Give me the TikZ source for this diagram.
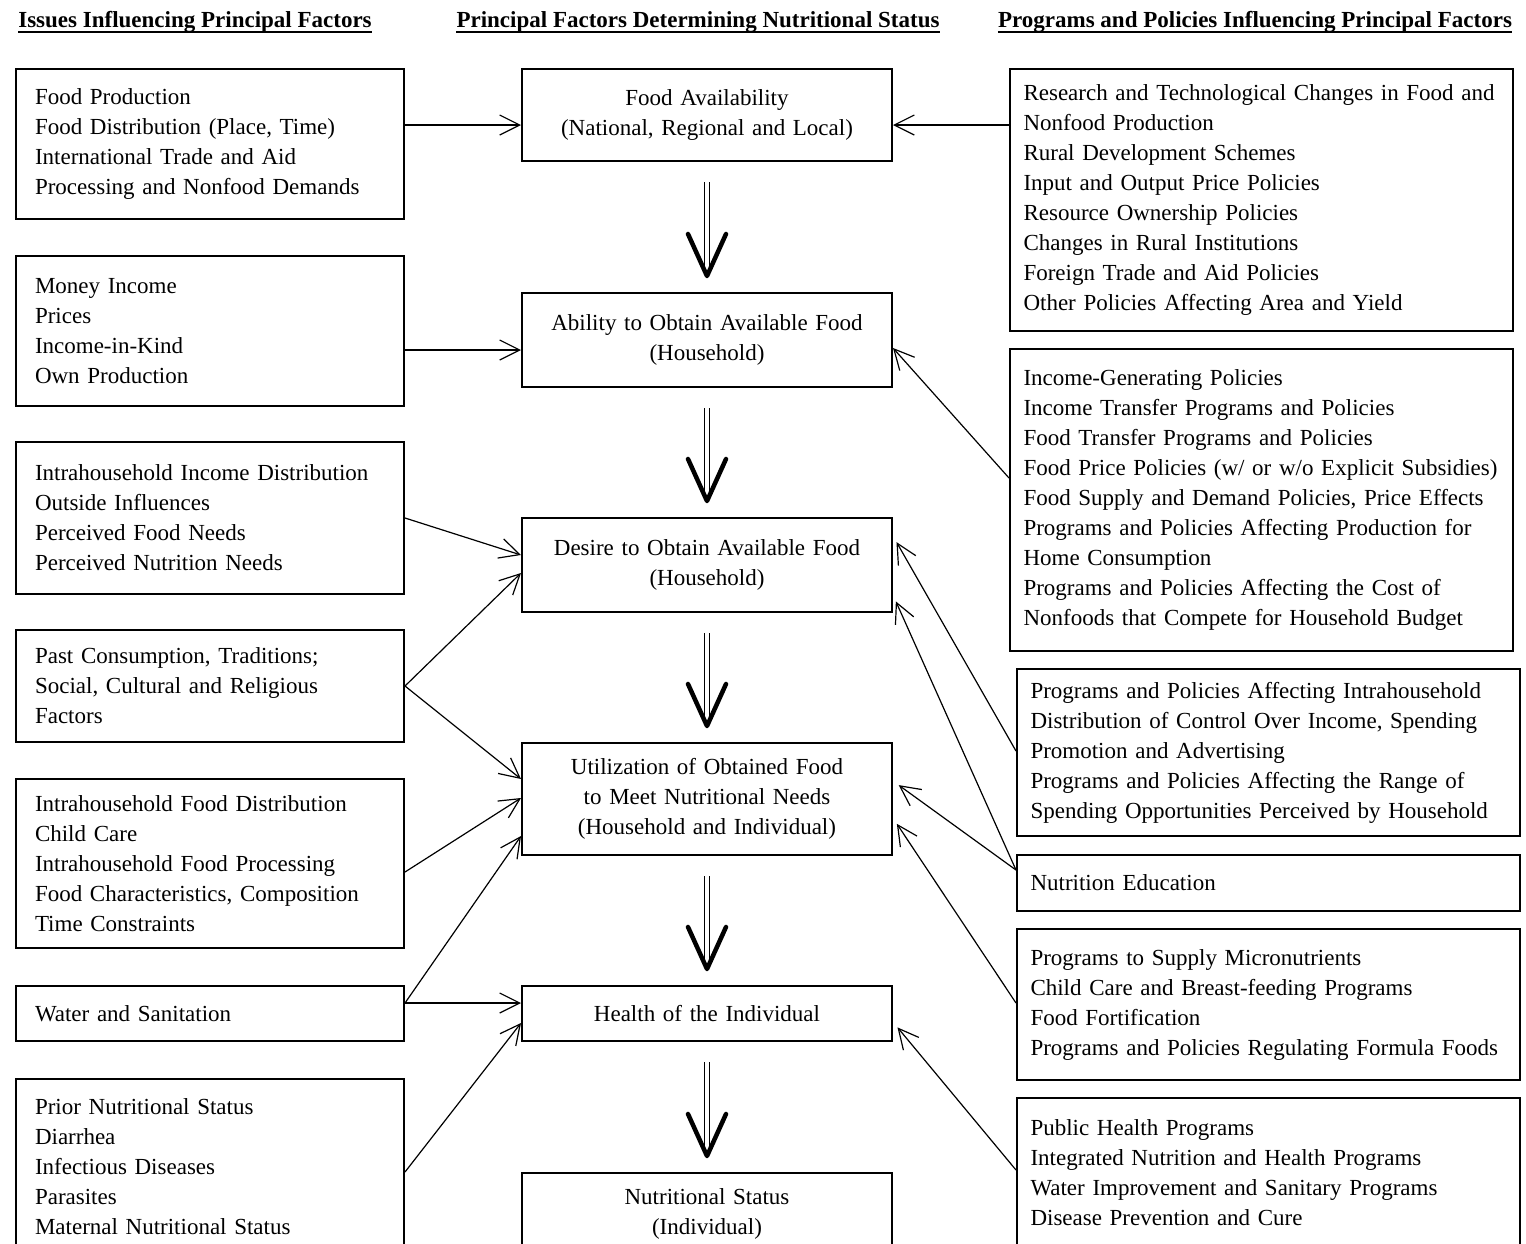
\documentclass[tikz,border=0pt]{standalone}
\usepackage{fontspec}
\setmainfont{Liberation Serif}
\usetikzlibrary{arrows.meta,calc}

\tikzset{
  box/.style={draw, line width=2pt, anchor=north west, inner ysep=0pt, font=\fontsize{23}{30}\selectfont},
  issue/.style={box, align=left, inner xsep=19pt, text width=350pt},
  factor/.style={box, align=center, inner xsep=10pt, text width=350pt},
  policy/.style={box, align=left, inner xsep=13.5pt, text width=476pt},
  heading/.style={anchor=base, inner sep=0pt, font=\fontsize{23}{30}\selectfont\bfseries},
  link/.style={-{Straight Barb[length=20pt,width=20pt]}, line width=1.2pt},
  shaft/.style={double, double distance=4pt, line width=1.3pt, shorten <=20pt, shorten >=18pt},
  vhead/.style={line width=4.5pt, line cap=round, line join=round}
}

\begin{document}
\begin{tikzpicture}[x=1pt,y=-1pt]
\useasboundingbox (0,0) rectangle (1526,1243);

\node[heading] (h1) at (195,27) {Issues Influencing Principal Factors};
\node[heading] (h2) at (698,27) {Principal Factors Determining Nutritional Status};
\node[heading] (h3) at (1255,27) {Programs and Policies Influencing Principal Factors};
\foreach \h in {h1,h2,h3}
  \draw[line width=2.5pt] ($(\h.base west)+(0,5)$) -- ($(\h.base east)+(0,5)$);

\node[issue, minimum height=150pt] (l1) at (15,68) {Food Production\\Food Distribution (Place, Time)\\International Trade and Aid\\Processing and Nonfood Demands};
\node[issue, minimum height=150pt] (l2) at (15,255) {Money Income\\Prices\\Income-in-Kind\\Own Production};
\node[issue, minimum height=152pt] (l3) at (15,441) {Intrahousehold Income Distribution\\Outside Influences\\Perceived Food Needs\\Perceived Nutrition Needs};
\node[issue, minimum height=112pt] (l4) at (15,629) {Past Consumption, Traditions;\\Social, Cultural and Religious\\Factors};
\node[issue, minimum height=169pt] (l5) at (15,778) {Intrahousehold Food Distribution\\Child Care\\Intrahousehold Food Processing\\Food Characteristics, Composition\\Time Constraints};
\node[issue, minimum height=55pt] (l6) at (15,985) {Water and Sanitation};
\node[issue, minimum height=176pt] (l7) at (15,1078) {Prior Nutritional Status\\Diarrhea\\Infectious Diseases\\Parasites\\Maternal Nutritional Status};

\node[factor, minimum height=92pt] (c1) at (521,68) {Food Availability\\(National, Regional and Local)};
\node[factor, minimum height=94pt] (c2) at (521,292) {Ability to Obtain Available Food\\(Household)};
\node[factor, minimum height=94pt] (c3) at (521,517) {Desire to Obtain Available Food\\(Household)};
\node[factor, minimum height=112pt] (c4) at (521,742) {Utilization of Obtained Food\\to Meet Nutritional Needs\\(Household and Individual)};
\node[factor, minimum height=55pt] (c5) at (521,985) {Health of the Individual};
\node[factor, minimum height=82pt] (c6) at (521,1172) {Nutritional Status\\(Individual)};

\node[policy, minimum height=262pt] (r1) at (1009,68) {Research and Technological Changes in Food and\\Nonfood Production\\Rural Development Schemes\\Input and Output Price Policies\\Resource Ownership Policies\\Changes in Rural Institutions\\Foreign Trade and Aid Policies\\Other Policies Affecting Area and Yield};
\node[policy, minimum height=302pt] (r2) at (1009,348) {Income-Generating Policies\\Income Transfer Programs and Policies\\Food Transfer Programs and Policies\\Food Price Policies (w/ or w/o Explicit Subsidies)\\Food Supply and Demand Policies, Price Effects\\Programs and Policies Affecting Production for\\Home Consumption\\Programs and Policies Affecting the Cost of\\Nonfoods that Compete for Household Budget};
\node[policy, minimum height=167pt] (r3) at (1016,668) {Programs and Policies Affecting Intrahousehold\\Distribution of Control Over Income, Spending\\Promotion and Advertising\\Programs and Policies Affecting the Range of\\Spending Opportunities Perceived by Household};
\node[policy, minimum height=56pt] (r4) at (1016,854) {Nutrition Education};
\node[policy, minimum height=151pt] (r5) at (1016,928) {Programs to Supply Micronutrients\\Child Care and Breast-feeding Programs\\Food Fortification\\Programs and Policies Regulating Formula Foods};
\node[policy, minimum height=150pt] (r6) at (1016,1097) {Public Health Programs\\Integrated Nutrition and Health Programs\\Water Improvement and Sanitary Programs\\Disease Prevention and Cure};

\foreach \a/\b in {c1/c2,c2/c3,c3/c4,c4/c5,c5/c6} {
  \draw[shaft] (\a.south) -- (\b.north);
  \draw[vhead] ($(\b.north)+(-19,-58)$) -- ($(\b.north)+(0,-16)$) -- ($(\b.north)+(19,-58)$);
}

\draw[link] ($(l1.north east)+(0,57)$) -- ($(c1.north west)+(0,57)$);
\draw[link] ($(l2.north east)+(0,95)$) -- ($(c2.north west)+(0,58)$);
\draw[link] ($(l3.north east)+(0,77)$) -- ($(c3.north west)+(0,38)$);
\draw[link] ($(l4.north east)+(0,57)$) -- ($(c3.north west)+(0,56)$);
\draw[link] ($(l4.north east)+(0,57)$) -- ($(c4.north west)+(0,37)$);
\draw[link] ($(l5.north east)+(0,94)$) -- ($(c4.north west)+(0,56)$);
\draw[link] ($(l6.north east)+(0,18)$) -- ($(c4.north west)+(0,94)$);
\draw[link] ($(l6.north east)+(0,18)$) -- ($(c5.north west)+(0,18)$);
\draw[link] ($(l7.north east)+(0,94)$) -- ($(c5.north west)+(0,38)$);

\draw[link] ($(r1.north west)+(0,57)$) -- ($(c1.north east)+(0,57)$);
\draw[link] ($(r2.north west)+(0,130)$) -- ($(c2.north east)+(0,56)$);
\draw[link, shorten >=7pt] ($(r3.north west)+(0,83)$) -- ($(c3.north east)+(0,19)$);
\draw[link, shorten >=7pt] ($(r4.north west)+(0,16)$) -- ($(c3.north east)+(0,78)$);
\draw[link, shorten >=7pt] ($(r4.north west)+(0,16)$) -- ($(c4.north east)+(0,39)$);
\draw[link, shorten >=7pt] ($(r5.north west)+(0,75)$) -- ($(c4.north east)+(0,76)$);
\draw[link, shorten >=7pt] ($(r6.north west)+(0,73)$) -- ($(c5.north east)+(0,37)$);

\end{tikzpicture}
\end{document}
